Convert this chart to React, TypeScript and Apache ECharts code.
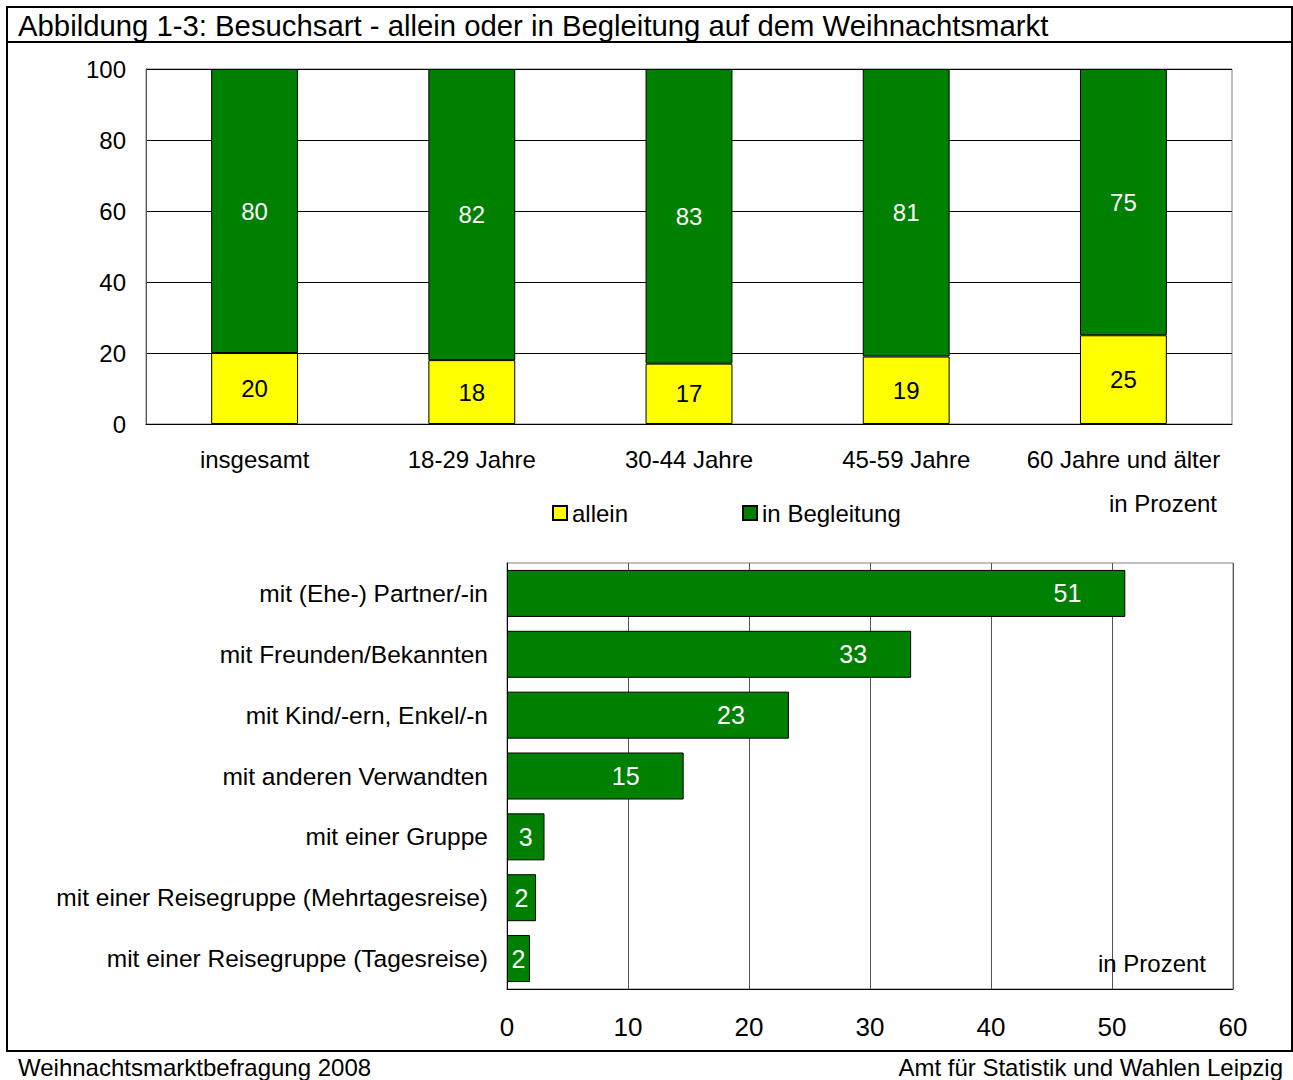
import React, { useEffect, useRef } from "react";
import * as echarts from "echarts";

const FONT = "'Liberation Sans', Arial, sans-serif";

const ageGroups = ["insgesamt", "18-29 Jahre", "30-44 Jahre", "45-59 Jahre", "60 Jahre und älter"];
const alleinValues = [20, 18, 17, 19, 25];
const begleitungValues = [80, 82, 83, 81, 75];
const topTicks = [0, 20, 40, 60, 80, 100];

const companions = [
  "mit (Ehe-) Partner/-in",
  "mit Freunden/Bekannten",
  "mit Kind/-ern, Enkel/-n",
  "mit anderen Verwandten",
  "mit einer Gruppe",
  "mit einer Reisegruppe (Mehrtagesreise)",
  "mit einer Reisegruppe (Tagesreise)",
];
const companionValues = [51.1, 33.4, 23.3, 14.6, 3.1, 2.4, 1.9];
const bottomTicks = [0, 10, 20, 30, 40, 50, 60];

const titleText = "Abbildung 1-3: Besuchsart - allein oder in Begleitung auf dem Weihnachtsmarkt";
const footerLeft = "Weihnachtsmarktbefragung 2008";
const footerRight = "Amt für Statistik und Wahlen Leipzig";
const unitText = "in Prozent";

const GREEN = "#008000";
const YELLOW = "#FFFF00";

function txt(x: number, y: number, text: string, size: number, align: string = "left") {
  return {
    type: "text",
    x,
    y,
    z: 100,
    style: {
      text,
      fontSize: size,
      fontFamily: FONT,
      fill: "#000",
      textAlign: align,
      textVerticalAlign: "middle",
      align,
      verticalAlign: "middle",
    },
  };
}

export default function App() {
  const ref = useRef<HTMLDivElement>(null);
  useEffect(() => {
    if (!ref.current) return;
    const chart = echarts.init(ref.current, undefined, { renderer: "svg" });
    const option: any = {
      animation: false,
      backgroundColor: "#fff",
      textStyle: { fontFamily: FONT },
      legend: {
        data: ["allein", "in Begleitung"],
        left: 547,
        top: 496,
        itemWidth: 14,
        itemHeight: 14,
        itemGap: 114,
        icon: "rect",
        textStyle: { fontSize: 24, color: "#000", fontFamily: FONT },
      },
      grid: [
        {
          left: 146, top: 69, width: 1086, height: 355,
          show: true, borderColor: "#808080", borderWidth: 1, backgroundColor: "#fff",
        },
        {
          left: 507, top: 563, width: 726, height: 426,
          show: true, borderColor: "#808080", borderWidth: 1, backgroundColor: "#fff",
        },
      ],
      xAxis: [
        {
          gridIndex: 0,
          type: "category",
          data: ageGroups,
          axisLine: { show: true, lineStyle: { color: "#000", width: 1 } },
          axisTick: { show: false },
          axisLabel: { interval: 0, fontSize: 24, color: "#000", margin: 23, fontFamily: FONT },
        },
        {
          gridIndex: 1,
          type: "value",
          min: bottomTicks[0],
          max: bottomTicks[bottomTicks.length - 1],
          interval: 10,
          axisLine: { show: true, lineStyle: { color: "#000", width: 1 } },
          axisTick: { show: false },
          splitLine: { show: true, lineStyle: { color: "#555", width: 1 } },
          axisLabel: { fontSize: 26, color: "#000", margin: 25, fontFamily: FONT },
        },
      ],
      yAxis: [
        {
          gridIndex: 0,
          type: "value",
          min: topTicks[0],
          max: topTicks[topTicks.length - 1],
          interval: 20,
          axisLine: { show: true, lineStyle: { color: "#555", width: 1 } },
          axisTick: { show: false },
          splitLine: { show: true, lineStyle: { color: "#000", width: 1 } },
          axisLabel: { fontSize: 24, color: "#000", margin: 20, fontFamily: FONT },
        },
        {
          gridIndex: 1,
          type: "category",
          inverse: true,
          data: companions,
          axisLine: { show: true, lineStyle: { color: "#000", width: 1 } },
          axisTick: { show: false },
          axisLabel: { interval: 0, fontSize: 24.5, color: "#000", margin: 19, fontFamily: FONT },
        },
      ],
      series: [
        {
          name: "allein",
          type: "bar",
          stack: "top",
          xAxisIndex: 0,
          yAxisIndex: 0,
          barWidth: "40%",
          data: alleinValues,
          itemStyle: { color: YELLOW, borderColor: "#000", borderWidth: 1 },
          label: { show: true, position: "inside", color: "#000", fontSize: 24, fontFamily: FONT },
        },
        {
          name: "in Begleitung",
          type: "bar",
          stack: "top",
          xAxisIndex: 0,
          yAxisIndex: 0,
          barWidth: "40%",
          data: begleitungValues,
          itemStyle: { color: GREEN, borderColor: "#000", borderWidth: 1 },
          label: { show: true, position: "inside", color: "#fff", fontSize: 24, fontFamily: FONT },
        },
        {
          name: "Begleitung durch",
          type: "bar",
          xAxisIndex: 1,
          yAxisIndex: 1,
          barWidth: 47,
          data: companionValues.map((v) => ({
            value: v,
            label: v >= 10 ? { position: "insideRight", distance: 44 } : { position: "inside" },
          })),
          itemStyle: { color: GREEN, borderColor: "#000", borderWidth: 1 },
          label: {
            show: true,
            color: "#fff",
            fontSize: 25,
            fontFamily: FONT,
            formatter: (p: any) => String(Math.round(p.value)),
          },
        },
      ],
      graphic: [
        {
          type: "rect",
          z: 100,
          shape: { x: 7, y: 7, width: 1285, height: 1044 },
          style: { fill: "none", stroke: "#000", lineWidth: 2 },
        },
        {
          type: "line",
          z: 100,
          shape: { x1: 7, y1: 42, x2: 1292, y2: 42 },
          style: { stroke: "#000", lineWidth: 2 },
        },
        txt(18, 25, titleText, 29.3),
        txt(18, 1067, footerLeft, 24),
        txt(1283, 1067, footerRight, 24, "right"),
        txt(1217, 503, unitText, 24, "right"),
        txt(1206, 963, unitText, 24, "right"),
      ],
    };
    chart.setOption(option);
    return () => chart.dispose();
  }, []);
  return (
    <div
      ref={ref}
      style={{ position: "absolute", left: 0, top: 0, width: 1293, height: 1080 }}
    />
  );
}
